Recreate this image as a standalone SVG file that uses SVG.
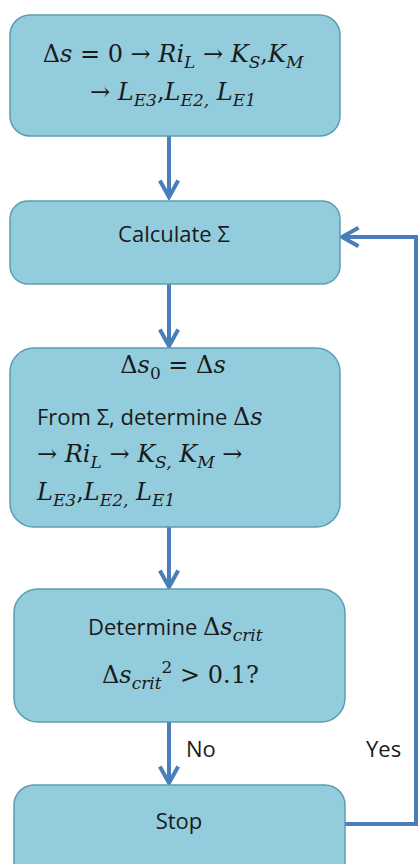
<svg xmlns="http://www.w3.org/2000/svg" width="418" height="864" viewBox="0 0 418 864">
<style>
.box{fill:#93CDDD;stroke:#5B9DB2;stroke-width:1.5}
.conn{stroke:#4A7EBB;stroke-width:4;fill:none}
.t{font-family:"Open Sans","Liberation Sans",sans-serif;font-size:22px;fill:#1a1a1a}
.m{font-family:"DejaVu Serif","Liberation Serif",serif;font-size:24px;fill:#1a1a1a}
.i{font-style:italic}
.s{font-size:17px}
</style>
<defs>
<marker id="ah" viewBox="0 0 12 12" refX="10" refY="6" markerWidth="5.5" markerHeight="5.5" orient="auto" markerUnits="strokeWidth">
<path d="M1,1 L10,6 L1,11" fill="none" stroke="#4A7EBB" stroke-width="2.2"/>
</marker>
</defs>
<g id="connectors">
<line class="conn" x1="169" y1="136" x2="169" y2="197" marker-end="url(#ah)"/>
<line class="conn" x1="169" y1="284" x2="169" y2="346" marker-end="url(#ah)"/>
<line class="conn" x1="169" y1="527" x2="169" y2="587" marker-end="url(#ah)"/>
<line class="conn" x1="169" y1="722" x2="169" y2="783" marker-end="url(#ah)"/>
<polyline class="conn" points="345,824 416,824 416,237 342,237" marker-end="url(#ah)"/>
<text class="t" x="186" y="757">No</text>
<text class="t" x="366" y="757">Yes</text>
</g>
<g id="n1">
<rect class="box" x="10" y="15" width="330" height="121" rx="20"/>
<text class="m" x="173" y="62" text-anchor="middle">Δ<tspan class="i">s</tspan> = 0 → <tspan class="i">Ri</tspan><tspan class="i s" dy="6">L</tspan><tspan dy="-6"> → </tspan><tspan class="i">K</tspan><tspan class="i s" dy="6">S</tspan><tspan dy="-6">,</tspan><tspan class="i">K</tspan><tspan class="i s" dy="6">M</tspan></text>
<text class="m" x="173" y="100" text-anchor="middle">→ <tspan class="i">L</tspan><tspan class="i s" dy="6">E3</tspan><tspan dy="-6">,</tspan><tspan class="i">L</tspan><tspan class="i s" dy="6">E2,</tspan><tspan dy="-6"> </tspan><tspan class="i">L</tspan><tspan class="i s" dy="6">E1</tspan></text>
</g>
<g id="n2">
<rect class="box" x="10" y="201" width="330" height="83" rx="18"/>
<text class="t" x="174" y="242" text-anchor="middle">Calculate Σ</text>
</g>
<g id="n3">
<rect class="box" x="10" y="348" width="330" height="179" rx="24"/>
<text class="m" x="173" y="373" text-anchor="middle">Δ<tspan class="i">s</tspan><tspan class="s" dy="6">0</tspan><tspan dy="-6"> = Δ</tspan><tspan class="i">s</tspan></text>
<text class="t" x="37" y="425">From Σ, determine <tspan class="m">Δ</tspan><tspan class="m i">s</tspan></text>
<text class="m" x="37" y="462">→ <tspan class="i">Ri</tspan><tspan class="i s" dy="6">L</tspan><tspan dy="-6"> → </tspan><tspan class="i">K</tspan><tspan class="i s" dy="6">S,</tspan><tspan dy="-6"> </tspan><tspan class="i">K</tspan><tspan class="i s" dy="6">M</tspan><tspan dy="-6"> →</tspan></text>
<text class="m" x="37" y="500"><tspan class="i">L</tspan><tspan class="i s" dy="6">E3</tspan><tspan dy="-6">,</tspan><tspan class="i">L</tspan><tspan class="i s" dy="6">E2,</tspan><tspan dy="-6"> </tspan><tspan class="i">L</tspan><tspan class="i s" dy="6">E1</tspan></text>
</g>
<g id="n4">
<rect class="box" x="14" y="589" width="331" height="133" rx="24"/>
<text class="t" x="88" y="635">Determine <tspan class="m">Δ</tspan><tspan class="m i">s</tspan><tspan class="m i s" dy="6">crit</tspan></text>
<text class="m" x="102" y="683">Δ<tspan class="i">s</tspan><tspan class="i s" dy="6">crit</tspan><tspan class="s" dy="-16">2</tspan><tspan dy="10"> &gt; 0.1?</tspan></text>
</g>
<g id="n5">
<rect class="box" x="14" y="785" width="331" height="100" rx="20"/>
<text class="t" x="179" y="829" text-anchor="middle">Stop</text>
</g>
</svg>
